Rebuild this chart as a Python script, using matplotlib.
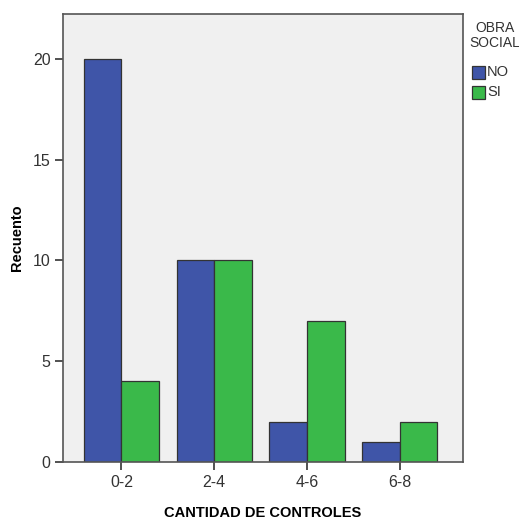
import numpy as np
import matplotlib.pyplot as plt
from matplotlib.patches import Rectangle

plt.rcParams['font.family'] = ['Liberation Sans', 'DejaVu Sans']

categorias = ['0-2', '2-4', '4-6', '6-8']
no_vals = [20, 10, 2, 1]
si_vals = [4, 10, 7, 2]
grupos = ['NO', 'SI']

azul = '#3f55a8'
verde = '#3ab94a'

W, H = 519, 521
fig = plt.figure(figsize=(W / 100, H / 100), dpi=100)
ax = fig.add_axes([0.1214, 0.1132, 0.7706, 0.8599])
ax.set_facecolor('#f0f0f0')

x = np.arange(len(categorias))
w = 0.405
ax.bar(x - w / 2, no_vals, w, color=azul, edgecolor='#333333', linewidth=0.9)
ax.bar(x + w / 2, si_vals, w, color=verde, edgecolor='#333333', linewidth=0.9)

ax.set_xlim(-0.63, 3.68)
ax.set_ylim(0, 22.23)
ax.set_xticks(x)
ax.set_xticklabels(categorias)
ax.set_yticks([0, 5, 10, 15, 20])
ax.tick_params(axis='both', labelsize=11.5, labelcolor='#333333', color='#333333',
               length=6, width=1.2, pad=3)
for s in ax.spines.values():
    s.set_color('#555555')
    s.set_linewidth(1.2)

ax.set_xlabel('CANTIDAD DE CONTROLES', fontsize=10.5, fontweight='bold', labelpad=12)
ax.set_ylabel('Recuento', fontsize=10.5, fontweight='bold', labelpad=6)

# leyenda a mano (fuera del area del grafico, como en SPSS)
fig.text(495 / W, 1 - 21 / H, 'OBRA\nSOCIAL', ha='center', va='top',
         fontsize=10, color='#333333', linespacing=1.05)
for i, (g, c) in enumerate(zip(grupos, [azul, verde])):
    top = 66 + 20 * i
    fig.add_artist(Rectangle((472 / W, 1 - (top + 13) / H), 13 / W, 13 / H,
                             transform=fig.transFigure, facecolor=c,
                             edgecolor='#333333', linewidth=0.9))
    fig.text(487 / W, 1 - (top + 6.5) / H, g, ha='left', va='center',
             fontsize=10.5, color='#333333')

fig.savefig('out.png', dpi=100)
